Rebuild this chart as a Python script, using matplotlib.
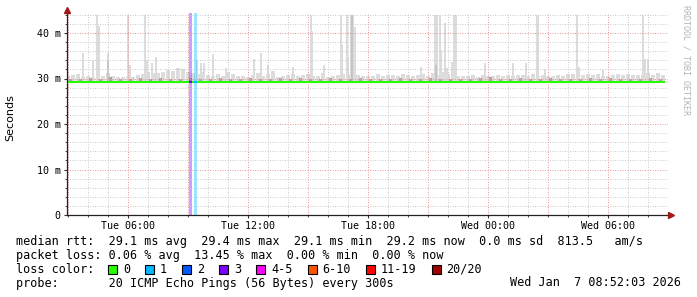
import matplotlib
matplotlib.use('Agg')
import matplotlib.pyplot as plt
from matplotlib.patches import Rectangle
from matplotlib.ticker import MultipleLocator, FixedLocator, NullFormatter

W, H = 697, 297

# time in hours since Tue 00:00, rtt in ms
t_start = 2 + 52 / 60          # Tue 02:52
t_end = t_start + 30           # Wed 08:52
col_step = 0.25                # 15 min smoke columns

# upper edge of the normal smoke band, one value per 15 min
smoke_hi = [30.5, 30.8, 31.0, 30.4, 30.6, 30.3, 30.7,
            30.5, 31.2, 30.6, 30.4, 30.3, 30.5,
            30.4, 30.8, 31.0, 31.5, 31.2, 31.3,
            31.5, 31.8, 31.6, 32.2, 32.0, 31.5,
            31.2, 31.0, 31.5, 30.8, 30.6, 31.0,
            30.6, 31.4, 31.0, 30.6, 30.5, 30.3,
            30.8, 31.2, 30.5, 30.9, 31.6, 30.4,
            30.5, 30.8, 30.9, 30.6, 30.8, 31.0,
            30.6, 30.5, 31.2, 30.4, 30.5, 30.7,
            31.0, 30.8, 30.6, 30.8, 30.6, 30.5,
            30.6, 30.9, 30.5, 30.7, 30.8, 30.6,
            30.9, 30.7, 30.6, 30.8, 31.0, 30.5,
            31.2, 30.8, 31.5, 30.9, 30.7, 30.6,
            30.5, 30.6, 30.8, 30.4, 30.7, 30.6,
            30.5, 30.8, 30.6, 30.7, 30.5, 30.8,
            30.7, 30.6, 30.9, 30.6, 30.8, 30.5,
            30.6, 30.8, 30.5, 30.9, 31.0, 30.6,
            30.7, 31.0, 30.8, 31.0, 30.6, 30.5,
            30.7, 31.0, 30.8, 30.9, 30.7, 30.8,
            30.8, 31.1, 30.7, 31.2, 30.8]

# darker core of the smoke, one value per 30 min
smoke_mid = [30.0, 29.9, 30.1, 29.8, 30.3, 29.9, 30.0, 30.2, 29.9, 30.1,
             30.0, 29.8, 30.1, 29.9, 30.0, 30.2, 29.9, 30.0, 30.1, 29.8,
             30.0, 30.1, 29.9, 30.2, 30.0, 29.9, 30.1, 30.0, 29.8, 30.1,
             30.0, 29.9, 30.0, 30.2, 29.9, 30.0, 30.1, 29.9, 30.0, 29.8,
             30.0, 30.1, 30.3, 30.0, 29.9, 30.1, 30.0, 29.9, 30.1, 30.0,
             29.9, 30.0, 30.1, 29.9, 30.2, 30.0, 29.9, 30.0, 30.1, 30.0]

# single outliers (top of smoke), 44 = off the scale
spike_t = [3.75, 4.25, 4.45, 4.55, 5.0, 6.0, 6.1, 6.85, 6.95, 7.2, 7.4,
           9.45, 9.65, 9.8, 10.25, 10.9, 12.3, 12.65, 13.0, 13.3, 14.25,
           15.15, 15.2, 15.8, 16.65, 16.7, 16.95, 17.0, 17.15, 17.25, 17.35,
           20.65, 21.35, 21.45, 21.6, 21.65, 21.85, 21.95, 22.2, 22.3, 22.4,
           23.85, 25.25, 25.9, 26.45, 26.5, 26.85, 28.45, 28.55, 29.75,
           31.75, 31.85, 32.0]
spike_ms = [35.5, 34.0, 44.0, 41.5, 35.5, 44.0, 33.0, 44.0, 34.0, 33.5, 34.8,
            34.0, 33.5, 33.3, 35.3, 32.3, 34.3, 35.5, 33.0, 31.7, 32.6,
            44.0, 40.4, 33.0, 44.0, 37.4, 44.0, 34.8, 44.0, 44.0, 41.4,
            32.6, 44.0, 44.0, 44.0, 36.2, 42.1, 32.4, 33.7, 44.0, 44.0,
            33.5, 33.5, 33.4, 44.0, 44.0, 32.0, 44.0, 32.6, 31.8,
            44.0, 34.3, 34.3]
# outliers where several pings were slow (darker smoke)
spike_dark_t = [5.0, 17.2, 21.4]
spike_dark_ms = [34.0, 44.0, 33.0]

median_ms = 29.15
loss_start = [9.05, 9.30]
loss_len = [0.15, 0.15]
loss_key = ['3', '1']

loss_labels = ['0', '1', '2', '3', '4-5', '6-10', '11-19', '20/20']
loss_colors = ['#26ff00', '#00b8ff', '#0059ff', '#7e00ff', '#ff00ff',
               '#ff5500', '#ff0000', '#a00000']

xtick_hours = [6, 12, 18, 24, 30]
xtick_labels = ['Tue 06:00', 'Tue 12:00', 'Tue 18:00', 'Wed 00:00', 'Wed 06:00']
ytick_ms = [0, 10, 20, 30, 40]
ytick_labels = ['0', '10 m', '20 m', '30 m', '40 m']

legend_lines = [
    'median rtt:  29.1 ms avg  29.4 ms max  29.1 ms min  29.2 ms now  0.0 ms sd  813.5   am/s',
    'packet loss: 0.06 % avg  13.45 % max  0.00 % min  0.00 % now',
    'loss color:',
    'probe:       20 ICMP Echo Pings (56 Bytes) every 300s',
]
stamp = 'Wed Jan  7 08:52:03 2026'

mono = 'DejaVu Sans Mono'


def fx(x):
    return x / W


def fy(y):
    return 1 - y / H


fig = plt.figure(figsize=(W / 100, H / 100), dpi=100)
fig.patch.set_facecolor('white')
ax = fig.add_axes([fx(67), fy(215), 601 / W, 202 / H])
ax.set_xlim(2.95, 33.0)
ax.set_ylim(0, 202 / 4.55)

col_t = [t_start + col_step * i + col_step / 2 for i in range(len(smoke_hi))]
ax.bar(col_t, [v - median_ms for v in smoke_hi], bottom=median_ms,
       width=0.2, color='#dcdcdc', linewidth=0, zorder=1)
ax.bar(spike_t, [v - median_ms for v in spike_ms], bottom=median_ms,
       width=0.1, color='#dcdcdc', linewidth=0, zorder=1)
ax.bar(spike_dark_t, [v - median_ms for v in spike_dark_ms], bottom=median_ms,
       width=0.1, color='#c4c4c4', linewidth=0, zorder=1.1)
mid_t = [t_start + 0.5 * i + 0.25 for i in range(len(smoke_mid))]
ax.bar(mid_t, [v - median_ms for v in smoke_mid], bottom=median_ms,
       width=0.15, color='#a8a8a8', linewidth=0, zorder=1.2)

# loss bands
for s, l, k in zip(loss_start, loss_len, loss_key):
    c = loss_colors[loss_labels.index(k)]
    ax.axvspan(s, s + l, color=c, alpha=0.38, linewidth=0, zorder=1.5)

ax.plot([t_start, t_end], [median_ms, median_ms], color=loss_colors[0],
        lw=1.5, solid_capstyle='butt', zorder=3)
for s, l, k in zip(loss_start, loss_len, loss_key):
    c = loss_colors[loss_labels.index(k)]
    ax.plot([s, s + l], [median_ms, median_ms], color=c, lw=1.5,
            solid_capstyle='butt', zorder=3.1)

# grid
ax.xaxis.set_major_locator(MultipleLocator(3))
ax.xaxis.set_minor_locator(MultipleLocator(1))
ax.yaxis.set_major_locator(MultipleLocator(10))
ax.yaxis.set_minor_locator(MultipleLocator(2))
ax.set_axisbelow(False)
ax.grid(which='minor', color='#cccccc', lw=0.72, ls=(0, (1, 1.5)), zorder=2)
ax.grid(which='major', color='#e69a9a', lw=0.72, ls=(0, (1, 1.5)), zorder=2.1)
ax.tick_params(which='both', length=0, labelbottom=False, labelleft=False)

# labelled ticks on secondary locators
sec_x = ax.secondary_xaxis('bottom')
sec_x.xaxis.set_major_locator(FixedLocator(xtick_hours))
sec_x.set_xticklabels(xtick_labels, fontfamily=mono, fontsize=7.2)
sec_x.xaxis.set_minor_locator(MultipleLocator(1))
sec_x.tick_params(which='major', length=2.5, width=0.8, pad=1.5, color='#333333')
sec_x.tick_params(which='minor', length=1.5, width=0.6, color='#333333')
sec_x.spines['bottom'].set_visible(False)
sec_y = ax.secondary_yaxis('left')
sec_y.yaxis.set_major_locator(FixedLocator(ytick_ms))
sec_y.set_yticklabels(ytick_labels, fontfamily=mono, fontsize=7.2)
sec_y.yaxis.set_minor_locator(MultipleLocator(2))
sec_y.yaxis.set_minor_formatter(NullFormatter())
sec_y.tick_params(which='major', length=2.5, width=0.8, pad=2, color='#333333')
sec_y.tick_params(which='minor', length=1.5, width=0.6, color='#333333')
sec_y.spines['left'].set_visible(False)

for side in ['top', 'right']:
    ax.spines[side].set_visible(False)
for side in ['left', 'bottom']:
    ax.spines[side].set_color('#222222')
    ax.spines[side].set_linewidth(0.9)
    ax.spines[side].set_zorder(4)

ax.plot([0], [1 + 3 / 202], marker='^', ms=4, color='#a01818',
        transform=ax.transAxes, clip_on=False, zorder=5)
ax.plot([1 + 3 / 601], [0], marker='>', ms=4, color='#a01818',
        transform=ax.transAxes, clip_on=False, zorder=5)

fig.text(fx(10), fy(118), 'Seconds', rotation=90, ha='center', va='center',
         fontsize=8, family='DejaVu Sans')
fig.text(fx(686), fy(60), 'RRDTOOL / TOBI OETIKER', rotation=270,
         ha='center', va='center', fontsize=6, family=mono, color='#b4b4b4')

# legend text
baselines = [245.5, 259, 273, 286.5]
for line, yb in zip(legend_lines, baselines):
    fig.text(fx(16), fy(yb), line, family=mono, fontsize=8.5, va='baseline')
fig.text(fx(681), fy(baselines[3]), stamp, family=mono, fontsize=8.5,
         va='baseline', ha='right')

cw = 7.1
lx = 123
for lab, col in zip(loss_labels, loss_colors):
    fig.patches.append(Rectangle((fx(lx - 15), fy(273.5)), 9 / W, 9 / H,
                                 transform=fig.transFigure, facecolor=col,
                                 edgecolor='black', linewidth=0.8))
    fig.text(fx(lx), fy(baselines[2]), lab, family=mono, fontsize=8.5,
             va='baseline')
    lx += len(lab) * cw + 30

fig.savefig('out.png', dpi=100, facecolor='white')
